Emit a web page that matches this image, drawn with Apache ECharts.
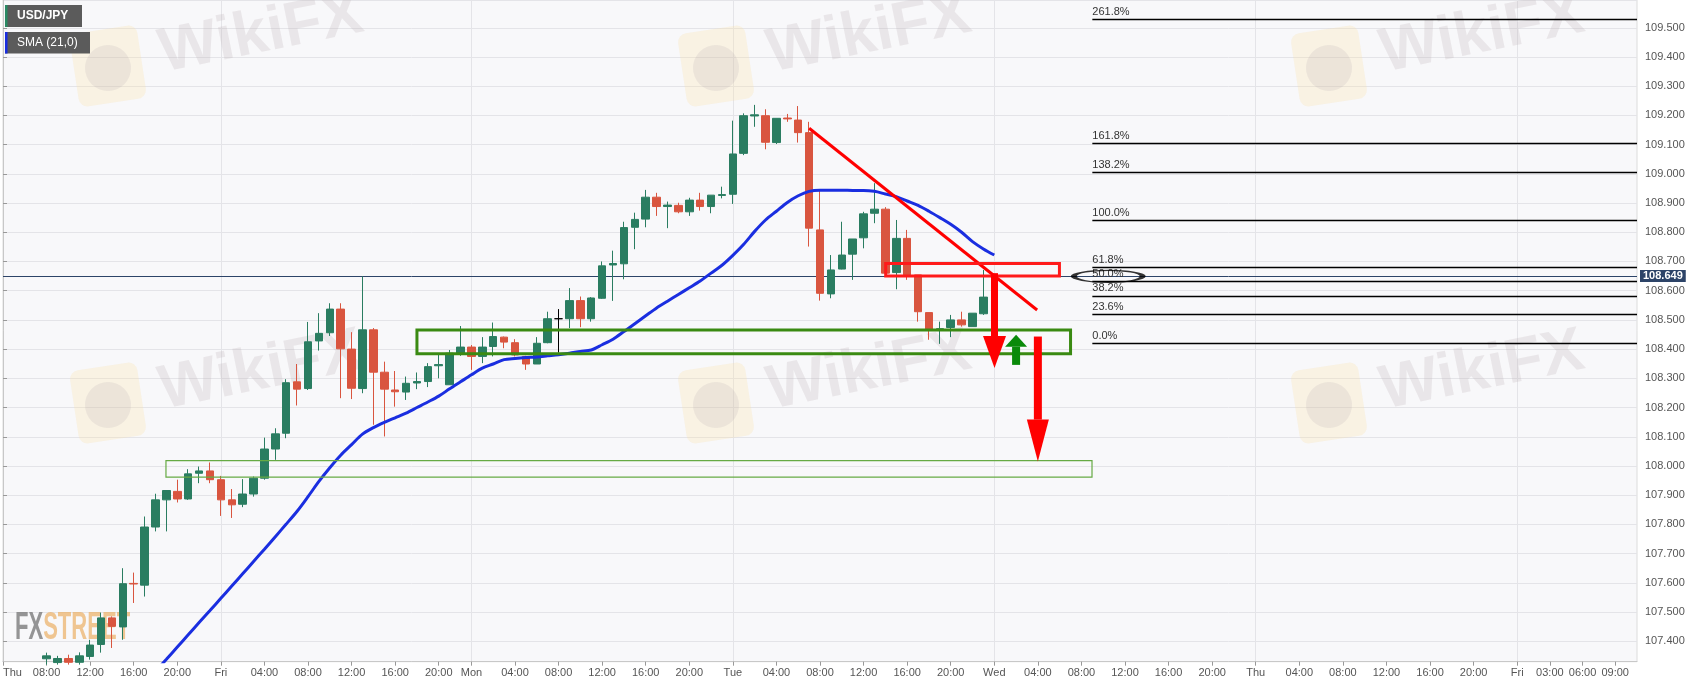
<!DOCTYPE html>
<html>
<head>
<meta charset="utf-8">
<script src="https://cdn.jsdelivr.net/npm/echarts/dist/echarts.min.js"></script>
<style>
html,body{margin:0;padding:0;background:#fff;}
#chart{width:1707px;height:687px;}
</style>
</head>
<body>
<div id="chart"></div>
<script>
// ---------- DATA ----------
// hourly slots shown on the axis: [day, firstHour, lastHour]
const daySegments = [['Thu',4,23],['Fri',0,21],['Sun',23,23],['Mon',0,23],['Tue',0,23],['Wed',0,23],['Thu',0,23],['Fri',0,11]];

// axis tick labels and the slot index each one sits on
const xTickIndex  = [0,4,8,12,16,20,24,28,32,36,40,43,47,51,55,59,63,67,71,75,79,83,87,91,95,99,103,107,111,115,119,123,127,131,135,139,142,145,148];
const xTickLabels = ['Thu','08:00','12:00','16:00','20:00','Fri','04:00','08:00','12:00','16:00','20:00','Mon','04:00','08:00','12:00','16:00','20:00','Tue','04:00','08:00','12:00','16:00','20:00','Wed','04:00','08:00','12:00','16:00','20:00','Thu','04:00','08:00','12:00','16:00','20:00','Fri','03:00','06:00','09:00'];
const dayStartIndex = [20,43,67,91,115,139];

// USD/JPY hourly candles [open, close, low, high], first candle at slot 4
const candleStart = 4;
const candles = [
[107.340,107.350,107.320,107.361],[107.327,107.341,107.320,107.350],[107.341,107.328,107.320,107.354],[107.328,107.350,107.320,107.362],
[107.348,107.387,107.337,107.405],[107.389,107.480,107.361,107.498],[107.480,107.451,107.377,107.485],[107.449,107.597,107.405,107.650],
[107.598,107.596,107.531,107.635],[107.592,107.791,107.553,107.827],[107.791,107.884,107.776,107.905],[107.884,107.916,107.776,107.916],
[107.913,107.887,107.875,107.953],[107.887,107.973,107.884,107.989],[107.975,107.983,107.941,107.998],[107.983,107.953,107.941,108.012],
[107.953,107.884,107.829,107.966],[107.884,107.867,107.822,107.921],[107.869,107.904,107.859,107.955],[107.904,107.958,107.895,107.964],
[107.958,108.058,107.953,108.097],[108.058,108.110,108.021,108.129],[108.112,108.285,108.095,108.297],[108.288,108.263,108.207,108.349],
[108.265,108.425,108.260,108.493],[108.428,108.454,108.395,108.523],[108.456,108.537,108.445,108.557],[108.537,108.401,108.232,108.557],
[108.400,108.266,108.229,108.458],[108.265,108.466,108.249,108.649],[108.466,108.321,108.141,108.472],[108.321,108.263,108.101,108.357],
[108.260,108.254,108.203,108.325],[108.253,108.283,108.226,108.306],[108.284,108.289,108.263,108.320],[108.289,108.340,108.270,108.352],
[108.343,108.347,108.300,108.380],[108.278,108.386,108.278,108.397],[108.385,108.407,108.377,108.479],[108.407,108.375,108.329,108.414],
[108.375,108.407,108.352,108.441],[108.409,108.443,108.375,108.491],[108.441,108.424,108.403,108.443],[108.422,108.380,108.375,108.434],
[108.375,108.349,108.329,108.377],[108.349,108.420,108.349,108.441],[108.422,108.504,108.420,108.528],[108.504,108.504,108.388,108.537],
[108.504,108.566,108.472,108.609],[108.566,108.504,108.475,108.580],[108.504,108.575,108.494,108.578],[108.574,108.685,108.572,108.700],
[108.688,108.693,108.565,108.737],[108.692,108.816,108.639,108.836],[108.817,108.844,108.742,108.867],[108.845,108.920,108.817,108.945],
[108.920,108.888,108.856,108.935],[108.888,108.893,108.814,108.905],[108.892,108.870,108.865,108.901],[108.870,108.910,108.856,108.918],
[108.910,108.888,108.874,108.935],[108.888,108.927,108.865,108.927],[108.926,108.929,108.916,108.956],[108.930,109.068,108.897,109.182],
[109.070,109.199,109.064,109.207],[109.198,109.202,109.161,109.236],[109.199,109.108,109.084,109.221],[109.107,109.190,109.102,109.190],
[109.191,109.188,109.178,109.205],[109.184,109.141,109.107,109.232],[109.141,108.814,108.751,109.178],[108.808,108.591,108.566,108.945],
[108.589,108.671,108.574,108.722],[108.674,108.722,108.673,108.836],[108.725,108.777,108.637,108.777],[108.781,108.863,108.745,108.870],
[108.865,108.879,108.831,108.968],[108.879,108.660,108.654,108.886],[108.662,108.779,108.605,108.842],[108.779,108.654,108.637,108.808],
[108.654,108.528,108.494,108.654],[108.525,108.466,108.432,108.525],[108.467,108.470,108.418,108.494],[108.474,108.500,108.441,108.517],
[108.500,108.483,108.477,108.528],[108.477,108.523,108.477,108.523],[108.521,108.578,108.517,108.671]
];

// SMA(21), first value at slot 14
const smaStart = 14;
const sma = [107.297,107.338,107.380,107.422,107.464,107.505,107.547,107.589,107.631,107.673,
107.715,107.758,107.801,107.845,107.895,107.947,107.994,108.037,108.073,108.109,
108.131,108.149,108.165,108.181,108.200,108.219,108.239,108.264,108.288,108.312,
108.335,108.349,108.364,108.368,108.371,108.373,108.377,108.381,108.386,108.392,
108.397,108.415,108.434,108.460,108.487,108.514,108.541,108.564,108.587,108.610,
108.633,108.660,108.687,108.721,108.759,108.803,108.842,108.872,108.902,108.925,
108.940,108.944,108.944,108.944,108.943,108.943,108.940,108.931,108.922,108.907,
108.892,108.872,108.850,108.827,108.800,108.768,108.743,108.722];

const lastPrice = 108.649;

// Fibonacci retracement levels
const fibLabels = ['261.8%','161.8%','138.2%','100.0%','61.8%','50.0%','38.2%','23.6%','0.0%'];
const fibValues = [109.529,109.104,109.005,108.841,108.681,108.632,108.582,108.520,108.421];
const fibRange  = [100,150];   // slot range of the fib lines

// drawn annotations (slot, price)
const trendLine   = [[74.0,109.156],[94.93,108.534]];
// zones: [slotFrom, priceTop, slotTo, priceBottom]
const zones = [[81.03,108.693,96.98,108.650],[38.0,108.465,98.0,108.384],[14.96,108.018,99.97,107.962]];
// arrows: [slot, start price, tip price]
const arrows = [[91.02,108.660,108.335],[93.0,108.346,108.449],[95.0,108.443,108.015]];
const ellipsePoint = [101.46,108.649];

// ---------- BUILD ----------
const categories = [];
daySegments.forEach(([d,a,b]) => { for (let h=a; h<=b; h++) categories.push(d+' '+String(h).padStart(2,'0')+':00'); });
const lastIndex = categories.length - 1;
const tickMap = {};
xTickIndex.forEach((i,k) => tickMap[i] = xTickLabels[k]);
const daySet = new Set(dayStartIndex);

const candleData = categories.map((c,i) => {
  const k = i - candleStart;
  return (k >= 0 && k < candles.length) ? candles[k] : '-';
});
const smaData = categories.map((c,i) => {
  const k = i - smaStart;
  return (k >= 0 && k < sma.length) ? sma[k] : '-';
});

const GREEN = '#2a7d61', RED = '#d9553f';
const zoneStyle = [
  {stroke:'#ff1a1a', lineWidth:3},
  {stroke:'#3a8a12', lineWidth:3},
  {stroke:'#66aa44', lineWidth:1.2}
];
const arrowStyle = [
  {color:'#ff0000', shaft:7, headW:23, headL:32},
  {color:'#0a8a0a', shaft:8, headW:22, headL:12},
  {color:'#ff0000', shaft:8, headW:22, headL:42}
];
const FONT = 'Liberation Sans, Arial, sans-serif';

const fibMarkLines = fibValues.map((v,i) => [
  {coord:[fibRange[0], v], label:{formatter: fibLabels[i]}},
  {coord:[fibRange[1], v]}
]);

// watermarks (decoration)
const wm = [];
[[70,28,160,55],[678,28,768,55],[1291,28,1381,55],[70,365,160,392],[678,365,768,392],[1291,365,1381,392]].forEach(([lx,ly,tx,ty]) => {
  wm.push({type:'rect', x:lx+38, y:ly+38, z:1, silent:true, rotation:0.15,
    shape:{x:-34,y:-37,width:68,height:74,r:9}, style:{fill:'rgba(250,222,160,0.25)'}});
  wm.push({type:'circle', x:lx+38, y:ly+40, z:1, silent:true,
    shape:{r:23}, style:{fill:'rgba(165,155,165,0.16)'}});
  wm.push({type:'text', x:tx, y:ty, z:1, silent:true, rotation:0.2,
    style:{text:'WikiFX', font:'bold 62px '+FONT, fill:'rgba(190,175,178,0.24)', verticalAlign:'middle'}});
});

const chart = echarts.init(document.getElementById('chart'), null, {renderer:'canvas'});
chart.setOption({
  animation:false,
  backgroundColor:'#ffffff',
  grid:{left:0, right:70, top:0, bottom:25.3, show:true, backgroundColor:'#f8f8fa', borderColor:'#dcdcdc', borderWidth:1},
  xAxis:[{
    type:'category', data:categories, boundaryGap:false,
    axisLine:{lineStyle:{color:'#c8c8c8'}},
    axisTick:{show:true, length:4, interval:(i)=>tickMap[i]!==undefined, lineStyle:{color:'#999'}},
    axisLabel:{interval:(i)=>tickMap[i]!==undefined, formatter:(v,i)=>tickMap[i]||'', color:'#555', fontSize:11, fontFamily:FONT, margin:6, alignMinLabel:'left'},
    splitLine:{show:true, interval:(i)=>daySet.has(i), lineStyle:{color:'#e4e4e8'}}
  },{
    type:'value', min:0, max:lastIndex, show:false
  }],
  yAxis:{
    type:'value', position:'right', min:107.33, max:109.595, splitNumber:22, minInterval:0.1, maxInterval:0.1,
    axisLine:{show:true, lineStyle:{color:'#c8c8c8'}},
    axisTick:{show:true, length:4, lineStyle:{color:'#999'}},
    axisLabel:{color:'#555', fontSize:11, fontFamily:FONT, margin:8, showMinLabel:false, showMaxLabel:false, formatter:(v)=>v.toFixed(3)},
    splitLine:{show:true, lineStyle:{color:'#e4e4e8'}}
  },
  graphic: wm.concat([
    {type:'text', x:15, y:629, z:1, silent:true, scaleX:0.58,
      style:{text:'{a|FX}{b|STREET}', verticalAlign:'middle',
        rich:{a:{font:'bold 38px '+FONT, fill:'rgba(130,130,130,0.85)', color:'rgba(130,130,130,0.85)'},
              b:{font:'bold 38px '+FONT, fill:'rgba(235,175,100,0.7)', color:'rgba(235,175,100,0.7)'}}}},
    {type:'rect', left:5, top:5, z:20, shape:{width:77,height:22}, style:{fill:'#5b5b5b'}},
    {type:'rect', left:5, top:5, z:21, shape:{width:2.5,height:22}, style:{fill:'#2a8a64'}},
    {type:'text', left:17, top:10, z:22, style:{text:'USD/JPY', font:'bold 12px '+FONT, fill:'#ffffff'}},
    {type:'rect', left:5, top:32, z:20, shape:{width:85,height:21.5}, style:{fill:'#5b5b5b'}},
    {type:'rect', left:5, top:32, z:21, shape:{width:2.5,height:21.5}, style:{fill:'#1a2ee0'}},
    {type:'text', left:17, top:37, z:22, style:{text:'SMA (21,0)', font:'12px '+FONT, fill:'#ffffff'}}
  ]),
  series:[
    {
      name:'USD/JPY', type:'candlestick', data:candleData, barWidth:8, clip:true, z:3,
      itemStyle:{color:GREEN, color0:RED, borderColor:GREEN, borderColor0:RED, borderColorDoji:'#000000', borderWidth:1},
      markLine:{
        silent:true, symbol:['none','none'], animation:false, z:2,
        lineStyle:{color:'#2d4468', width:1, type:'solid'},
        label:{show:true, position:'end', distance:3, formatter:lastPrice.toFixed(3), color:'#fff', fontWeight:'bold', fontSize:11, fontFamily:FONT, backgroundColor:'#2d4468', padding:[1,3,0,3]},
        data:[{yAxis:lastPrice}]
      }
    },
    {
      name:'SMA (21,0)', type:'line', data:smaData, showSymbol:false, smooth:0.3, z:4,
      lineStyle:{color:'#1a2ee0', width:3}, clip:true
    },
    {
      name:'trend', type:'line', xAxisIndex:1, data:trendLine, showSymbol:false, z:5,
      lineStyle:{color:'#ff0000', width:3},
      markLine:{
        silent:true, symbol:['none','none'], animation:false,
        lineStyle:{color:'#000', width:1.3, type:'solid'},
        label:{show:true, position:'insideStartTop', distance:[0,2], color:'#333', fontSize:11, fontFamily:FONT},
        data:fibMarkLines
      }
    },
    {
      name:'zones', type:'custom', xAxisIndex:1, z:6, data:zones, silent:true,
      encode:{x:[0,2], y:[1,3]},
      renderItem:function(params, api){
        const s = zoneStyle[params.dataIndex];
        const a = api.coord([api.value(0), api.value(1)]);
        const b = api.coord([api.value(2), api.value(3)]);
        return {type:'rect', shape:{x:a[0], y:a[1], width:b[0]-a[0], height:b[1]-a[1]},
          style:{fill:null, stroke:s.stroke, lineWidth:s.lineWidth}};
      }
    },
    {
      name:'arrows', type:'custom', xAxisIndex:1, z:7, data:arrows, silent:true,
      encode:{x:0, y:[1,2]},
      renderItem:function(params, api){
        const s = arrowStyle[params.dataIndex];
        const p1 = api.coord([api.value(0), api.value(1)]);
        const p2 = api.coord([api.value(0), api.value(2)]);
        const dir = p2[1] > p1[1] ? 1 : -1;
        const baseY = p2[1] - dir*s.headL;
        return {type:'group', children:[
          {type:'rect', shape:{x:p1[0]-s.shaft/2, y:Math.min(p1[1],baseY), width:s.shaft, height:Math.abs(baseY-p1[1])}, style:{fill:s.color}},
          {type:'polygon', shape:{points:[[p1[0]-s.headW/2, baseY],[p1[0]+s.headW/2, baseY],[p2[0],p2[1]]]}, style:{fill:s.color}}
        ]};
      }
    },
    {
      name:'ellipse', type:'scatter', xAxisIndex:1, z:8, data:[ellipsePoint], symbol:'circle', symbolSize:[69,12],
      itemStyle:{color:'rgba(0,0,0,0)', borderColor:'#000', borderWidth:2.5}, silent:true
    }
  ]
});
</script>
</body>
</html>
